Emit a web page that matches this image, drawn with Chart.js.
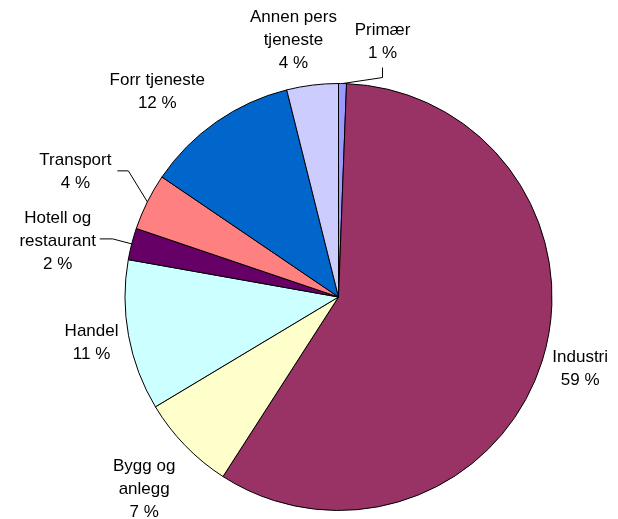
<!DOCTYPE html>
<html>
<head>
<meta charset="utf-8">
<script src="https://cdn.jsdelivr.net/npm/chart.js@4/dist/chart.umd.min.js"></script>
<style>
  body { margin: 0; background: #fff; }
  canvas { display: block; }
</style>
</head>
<body>
<canvas id="pieChart" width="618" height="519"></canvas>
<script>
// data (share in %)
const sectors = ['Primær', 'Industri', 'Bygg og anlegg', 'Handel', 'Hotell og restaurant', 'Transport', 'Forr tjeneste', 'Annen pers tjeneste'];
const shares = [0.6, 58.5, 7.3, 11.4, 2.4, 4.3, 11.6, 3.9];
const labelLines = [
  ['Primær'],
  ['Industri'],
  ['Bygg og', 'anlegg'],
  ['Handel'],
  ['Hotell og', 'restaurant'],
  ['Transport'],
  ['Forr tjeneste'],
  ['Annen pers', 'tjeneste']
];
const sliceColors = ['#9999FF', '#993366', '#FFFFCC', '#CCFFFF', '#660066', '#FF8080', '#0066CC', '#CCCCFF'];

// label placement, relative to the middle of each slice's rim
const labelOffsets = [[40, -42], [38, 8], [-41, 44], [-37, 7], [-74, -3], [-72, -30], [-59, -30], [-19, -45]];
// leader lines: points relative to label centre, then joined to the rim
const leaders = {
  0: [[0, 26], [0, 36]],
  4: [[42, -2], [55, -2]],
  5: [[42, -1], [53, -1]]
};

const lineHeight = 23;

const pieLabels = {
  id: 'pieLabels',
  afterDatasetsDraw(chart) {
    const ctx = chart.ctx;
    const total = shares.reduce((a, b) => a + b, 0);
    const arcs = chart.getDatasetMeta(0).data;
    ctx.save();
    ctx.font = '17px "Liberation Sans", Arial, sans-serif';
    ctx.fillStyle = '#000';
    ctx.textAlign = 'center';
    ctx.textBaseline = 'middle';
    arcs.forEach((arc, i) => {
      const p = arc.getProps(['x', 'y', 'startAngle', 'endAngle', 'outerRadius'], true);
      const mid = (p.startAngle + p.endAngle) / 2;
      const ex = p.x + Math.cos(mid) * p.outerRadius;
      const ey = p.y + Math.sin(mid) * p.outerRadius;
      const lx = ex + labelOffsets[i][0];
      const ly = ey + labelOffsets[i][1];

      const pct = Math.round(shares[i] / total * 100 + 1e-9);
      const lines = labelLines[i].concat([pct + ' %']);
      const top = ly - (lines.length - 1) * lineHeight / 2;
      lines.forEach((t, k) => ctx.fillText(t, lx, top + k * lineHeight));

      if (leaders[i]) {
        ctx.beginPath();
        ctx.strokeStyle = '#000';
        ctx.lineWidth = 1;
        leaders[i].forEach((pt, k) => {
          if (k === 0) ctx.moveTo(lx + pt[0], ly + pt[1]);
          else ctx.lineTo(lx + pt[0], ly + pt[1]);
        });
        ctx.lineTo(ex, ey);
        ctx.stroke();
      }
    });
    ctx.restore();
  }
};

new Chart(document.getElementById('pieChart'), {
  type: 'pie',
  data: {
    labels: sectors,
    datasets: [{
      data: shares,
      backgroundColor: sliceColors,
      borderColor: '#000',
      borderWidth: 1
    }]
  },
  options: {
    responsive: false,
    animation: false,
    layout: { padding: { top: 83, bottom: 8, left: 100, right: 41 } },
    plugins: {
      legend: { display: false },
      tooltip: { enabled: false }
    }
  },
  plugins: [pieLabels]
});
</script>
</body>
</html>
